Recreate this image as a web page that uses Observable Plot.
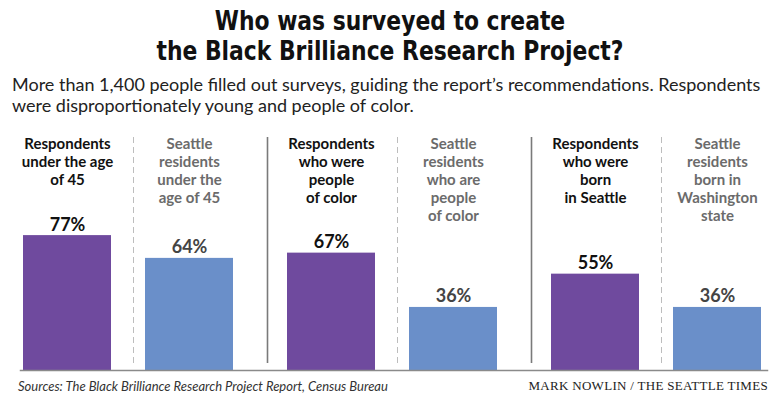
<!DOCTYPE html>
<html><head><meta charset="utf-8">
<script src="https://cdn.jsdelivr.net/npm/d3@7"></script>
<script src="https://cdn.jsdelivr.net/npm/@observablehq/plot@0.6"></script>
<style>
body{margin:0;background:#fff;}
#wrap{position:relative;width:780px;height:397px;overflow:hidden;background:#fff;}
#title{position:absolute;top:6px;left:0;width:780px;text-align:center;font-weight:bold;font-size:27px;line-height:30px;font-family:"DejaVu Sans Condensed","DejaVu Sans",sans-serif;color:#111;transform:scaleX(0.9);transform-origin:390px 0;}
#sub{position:absolute;top:74px;left:12px;width:766px;font-size:18px;line-height:21px;font-family:Lato,sans-serif;color:#222;}
#chart{position:absolute;top:125px;left:0;}
#src{position:absolute;left:18px;top:378px;font-style:italic;font-size:13px;font-family:Lato,sans-serif;color:#333;white-space:nowrap;}
#credit{position:absolute;right:12px;top:378px;font-size:13px;font-family:"Liberation Serif",serif;color:#222;white-space:nowrap;letter-spacing:0.3px;}
</style></head>
<body>
<div id="wrap">
<div id="title">Who was surveyed to create<br>the Black Brilliance Research Project?</div>
<div id="sub">More than 1,400 people filled out surveys, guiding the report’s recommendations. Respondents were disproportionately young and people of color.</div>
<div id="chart"></div>
<div id="src">Sources: The Black Brilliance Research Project Report, Census Bureau</div>
<div id="credit">MARK NOWLIN / THE SEATTLE TIMES</div>
</div>
<script>
const groups = ["age", "age", "color", "color", "born", "born"];
const kinds = ["Respondents", "Seattle", "Respondents", "Seattle", "Respondents", "Seattle"];
const labels = [
  "Respondents\nunder the age\nof 45",
  "Seattle\nresidents\nunder the\nage of 45",
  "Respondents\nwho were\npeople\nof color",
  "Seattle\nresidents\nwho are\npeople\nof color",
  "Respondents\nwho were\nborn\nin Seattle",
  "Seattle\nresidents\nborn in\nWashington\nstate"
];
const values = [77, 64, 67, 36, 55, 36];
const valueLabels = ["77%", "64%", "67%", "36%", "55%", "36%"];

const rows = values.map((v, i) => ({group: groups[i], kind: kinds[i], label: labels[i], value: v, vlabel: valueLabels[i]}));
const groupDomain = ["age", "color", "born"];
const barColor = {Respondents: "#6f4a9e", Seattle: "#6a8fc9"};
const labelColor = {Respondents: "#111", Seattle: "#6b6b6b"};
const valueColor = {Respondents: "#111", Seattle: "#444"};

const dashed = groupDomain.map(g => ({group: g, kind: "Seattle"}));
const solid = groupDomain.slice(1).map(g => ({group: g, kind: "Respondents"}));

const chart = Plot.plot({
  width: 780,
  height: 250,
  marginTop: 12,
  marginBottom: 5,
  marginLeft: 22,
  marginRight: 18,
  fx: {domain: groupDomain, paddingInner: 0.197, paddingOuter: 0, axis: null},
  x: {domain: ["Respondents", "Seattle"], paddingInner: 0.276, paddingOuter: 0, axis: null},
  y: {domain: [0, 133], axis: null},
  color: {type: "identity"},
  marks: [
    Plot.ruleX(dashed, {fx: "group", x: "kind", dx: -56, stroke: "#bdbdbd", strokeWidth: 1, strokeDasharray: "6,4", insetBottom: 7}),
    Plot.ruleX(solid, {fx: "group", x: "kind", dx: -64, stroke: "#7a7a7a", strokeWidth: 1.6, insetBottom: 7}),
    Plot.barY(rows, {fx: "group", x: "kind", y: "value", fill: d => barColor[d.kind]}),
    Plot.text(rows, {fx: "group", x: "kind", text: "label", frameAnchor: "top", lineAnchor: "top", lineHeight: 1.2, fontSize: 15, fontWeight: "bold", fontFamily: "Lato, sans-serif", fill: d => labelColor[d.kind], dy: -1}),
    Plot.text(rows, {fx: "group", x: "kind", y: "value", text: "vlabel", lineAnchor: "bottom", dy: -5, fontSize: 18, fontWeight: "bold", fontFamily: "Lato, sans-serif", fill: d => valueColor[d.kind]}),
    Plot.frame({anchor: "bottom", facet: "super", stroke: "#8a8a8a", strokeWidth: 1.5, insetLeft: -2, insetRight: -5})
  ]
});
document.getElementById("chart").appendChild(chart);
</script>
</body></html>
